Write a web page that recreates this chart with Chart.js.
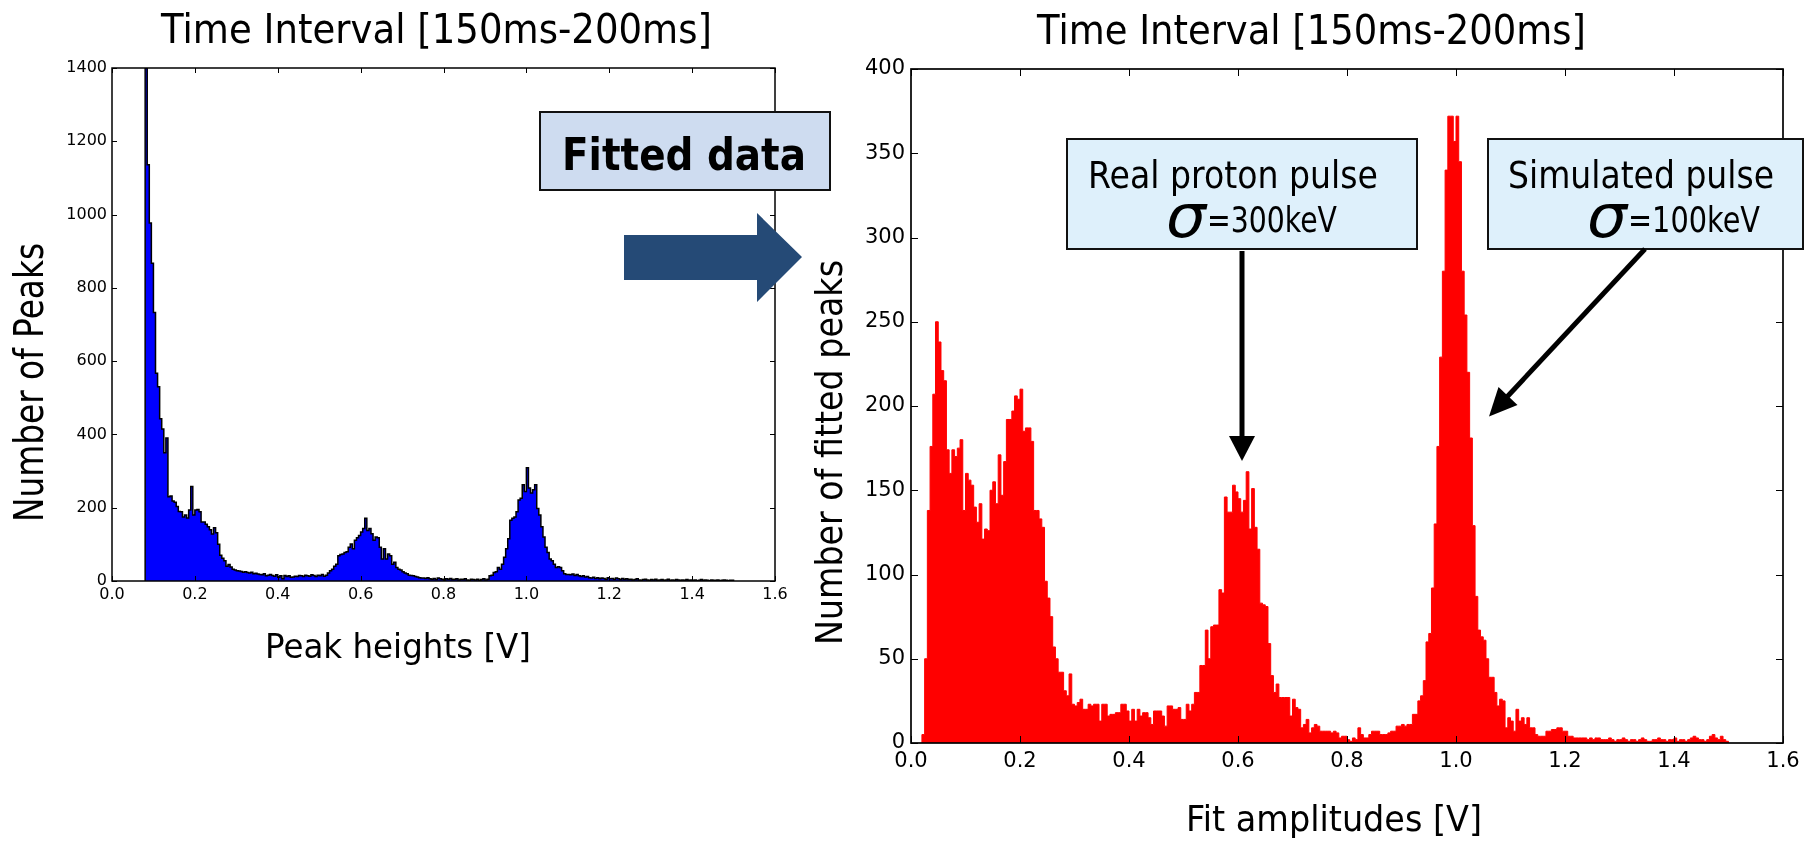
<!DOCTYPE html>
<html>
<head>
<meta charset="utf-8">
<title>Peak heights vs fit amplitudes</title>
<script src="https://cdn.jsdelivr.net/npm/chart.js@4.4.0/dist/chart.umd.min.js"></script>
<style>
  html, body { margin: 0; padding: 0; background: #fff; }
  body { position: relative; width: 1818px; height: 841px; overflow: hidden; }
  #leftChart { position: absolute; left: 0; top: 0; }
  #rightChart { position: absolute; left: 800px; top: 0; }
  #overlay { position: absolute; left: 0; top: 0; }
</style>
</head>
<body>
<canvas id="leftChart" width="800" height="841"></canvas>
<canvas id="rightChart" width="1018" height="841"></canvas>

<svg id="overlay" width="1818" height="841" xmlns="http://www.w3.org/2000/svg">
  <g font-family="'DejaVu Sans', sans-serif" fill="#000">
    <text x="161" y="43" font-size="41" textLength="551" lengthAdjust="spacingAndGlyphs">Time Interval [150ms-200ms]</text>
    <text x="1037" y="44" font-size="41" textLength="549" lengthAdjust="spacingAndGlyphs">Time Interval [150ms-200ms]</text>
    <text x="265" y="658" font-size="34" textLength="266" lengthAdjust="spacingAndGlyphs">Peak heights [V]</text>
    <text x="1186" y="831" font-size="36" textLength="296" lengthAdjust="spacingAndGlyphs">Fit amplitudes [V]</text>
    <text transform="translate(43,522) rotate(-90)" font-size="40" textLength="279" lengthAdjust="spacingAndGlyphs">Number of Peaks</text>
    <text transform="translate(842,645) rotate(-90)" font-size="38" textLength="385" lengthAdjust="spacingAndGlyphs">Number of fitted peaks</text>
  </g>

  <!-- slide call-out between the two plots -->
  <rect x="540" y="112" width="290" height="78" fill="#cedcf0" stroke="#111" stroke-width="2"/>
  <text x="562" y="170" font-family="'DejaVu Sans', sans-serif" font-weight="bold" font-size="45" textLength="244" lengthAdjust="spacingAndGlyphs">Fitted data</text>
  <polygon points="624,235 757,235 757,213 802,257 757,302 757,280 624,280" fill="#254a76"/>

  <!-- annotation boxes on the right plot -->
  <rect x="1067" y="139" width="350" height="110" fill="#def0fb" stroke="#111" stroke-width="2"/>
  <text x="1088" y="188" font-family="'DejaVu Sans', sans-serif" font-size="37" textLength="290" lengthAdjust="spacingAndGlyphs">Real proton pulse</text>
  <text x="1166" y="237" font-family="'DejaVu Sans', sans-serif" font-weight="200" font-style="italic" font-size="60" textLength="40" lengthAdjust="spacingAndGlyphs">σ</text>
  <text x="1207" y="232" font-family="'DejaVu Sans', sans-serif" font-size="36" textLength="130" lengthAdjust="spacingAndGlyphs">=300keV</text>

  <rect x="1488" y="139" width="315" height="110" fill="#def0fb" stroke="#111" stroke-width="2"/>
  <text x="1508" y="188" font-family="'DejaVu Sans', sans-serif" font-size="37" textLength="266" lengthAdjust="spacingAndGlyphs">Simulated pulse</text>
  <text x="1587" y="237" font-family="'DejaVu Sans', sans-serif" font-weight="200" font-style="italic" font-size="60" textLength="40" lengthAdjust="spacingAndGlyphs">σ</text>
  <text x="1628" y="232" font-family="'DejaVu Sans', sans-serif" font-size="36" textLength="132" lengthAdjust="spacingAndGlyphs">=100keV</text>

  <!-- arrows -->
  <rect x="1239.5" y="251" width="5" height="186" fill="#000"/>
  <polygon points="1229,436 1255,436 1242,461" fill="#000"/>
  <line x1="1645" y1="249" x2="1506" y2="398" stroke="#000" stroke-width="5"/>
  <polygon points="1489,416.5 1498.5,387 1517.5,405" fill="#000"/>
</svg>

<script>
// x axis ticks shared by both plots
const xTicks = [0, 0.2, 0.4, 0.6, 0.8, 1.0, 1.2, 1.4, 1.6];
const xTickLabels = ['0.0', '0.2', '0.4', '0.6', '0.8', '1.0', '1.2', '1.4', '1.6'];

const leftYTicks = [0, 200, 400, 600, 800, 1000, 1200, 1400];
const rightYTicks = [0, 50, 100, 150, 200, 250, 300, 350, 400];

// histogram bins: left edge of first bin and bin width [V]
const binWidth = 0.005;
const leftBinStart = 0.08;
const rightBinStart = 0.02;

// Peak heights [V], counts per bin (0.080 .. 1.500)
const leftCounts = [
  1400, 1136, 977, 867, 733, 567, 530, 443, 415, 350,
  390, 230, 232, 218, 215, 203, 190, 189, 175, 180,
  172, 194, 258, 180, 194, 195, 189, 161, 161, 155,
  148, 140, 128, 145, 132, 100, 70, 62, 55, 40,
  45, 38, 32, 30, 28,
  27, 26, 24, 25, 23, 22, 24, 20, 21, 19,
  18, 17, 20, 14, 16, 18, 15, 13, 17, 10,
  14, 6, 15, 12, 14, 10, 11, 13, 12, 15,
  14, 12, 16, 14, 13, 17, 15, 12, 16, 14,
  18, 13, 16,
  22, 28, 32, 40, 46, 69, 72, 74, 78, 80,
  92, 101, 88, 111, 118, 124, 134, 143, 171, 138,
  143, 129, 111, 120, 118, 92, 60, 88, 60, 74,
  69, 46, 51, 37, 32, 30, 25, 22, 20, 16,
  15, 14, 12, 11, 9, 8,
  8, 7, 9, 6, 5, 7, 4, 8, 6, 5,
  3, 6, 5, 7, 4, 5, 6, 3, 5, 4,
  6, 3, 2, 5, 4, 3, 5, 2, 4, 6,
  3, 5,
  14, 16, 23, 25, 37, 32, 46, 65, 88, 115,
  166, 171, 175, 189, 221, 226, 263, 244, 309, 254,
  240, 249, 263, 198, 180, 148, 120, 92, 78, 60,
  55, 46, 37, 39, 37, 28, 20, 18, 18, 17,
  19, 15, 18, 14, 12, 14, 11, 12, 9,
  8, 10, 7, 9, 6, 8, 7, 5, 9, 6, 7, 5, 8, 6, 4, 7, 5, 6, 4,
  5, 3, 4, 6, 3, 2, 4, 5, 3, 2,
  4, 3, 5, 2, 3, 4, 2, 3, 5, 2,
  3, 2, 4, 3, 2, 3, 2, 4, 2, 3,
  2, 3, 1, 2, 4, 2, 3, 2, 1, 3,
  2, 2, 3, 1, 2, 3, 2, 1, 2, 2
];

// Fit amplitudes [V], counts per bin (0.020 .. 1.500)
const rightCounts = [
  5, 50, 138, 176, 207, 250, 238, 221, 215, 174,
  160, 174, 170, 175, 180, 138, 160, 156, 153, 140,
  131, 142, 121, 127, 126, 150, 155, 142, 171, 147,
  167, 192, 192, 197, 206, 204, 210, 185, 187, 187,
  179, 138, 138, 133, 128, 96, 86, 75, 57, 50,
  42, 42, 31, 28, 41, 23, 22, 24, 26, 20,
  20, 23, 22, 23, 23, 13, 23, 23, 16, 17,
  17, 18, 18, 23, 23, 19, 13, 20, 13, 20,
  16, 18, 18, 15, 11, 19, 19, 19, 16, 10,
  22, 22, 20, 20, 21, 14, 14, 23, 19, 23,
  30, 30, 46, 46, 67, 50, 69, 70, 70, 91,
  89, 146, 137, 137, 153, 149, 145, 137, 144, 161,
  127, 151, 128, 115, 83, 82, 81, 59, 40, 30,
  35, 27, 27, 27, 27, 16, 26, 21, 20, 9,
  11, 14, 6, 9, 11, 10, 7, 7, 7, 7,
  6, 7, 6, 3, 4, 4,
  2, 1, 3, 2, 9, 5, 3, 3, 5, 7, 7, 7, 5, 5, 5, 6, 7, 7, 10, 10, 11, 10, 11, 11,
  17, 17, 25, 28, 37, 60, 65, 92, 130, 176,
  229, 280, 340, 372, 372, 357, 372, 345, 280, 254,
  220, 181, 129, 87, 67, 63, 61, 50, 39, 39,
  30, 22, 26, 25, 9, 15, 13, 7, 20, 13,
  15, 11, 15, 9, 9, 5, 4, 4, 4, 7,
  7, 8, 8, 9, 9, 7, 7, 4, 4, 3,
  3, 3, 3, 3, 2, 3, 2, 3, 3, 2,
  2, 2, 3, 2, 1, 2, 2, 3, 2, 1,
  2, 2, 1, 2, 3, 2, 1, 1, 2, 2,
  3, 2, 2, 1, 2, 2, 3, 1, 2, 2,
  1, 2, 3, 4, 3, 2, 2, 1, 2, 4,
  5, 3, 2, 4, 2, 1
];

// step outline points: one point per bin left edge, closed at both ends
function histPoints(start, width, counts) {
  const pts = [{ x: start, y: 0 }];
  counts.forEach((c, i) => pts.push({ x: +(start + i * width).toFixed(4), y: c }));
  pts.push({ x: +(start + counts.length * width).toFixed(4), y: 0 });
  return pts;
}

// matplotlib style frame with inward ticks on all four sides
const frameTicks = {
  id: 'frameTicks',
  afterDatasetsDraw(chart, args, opts) {
    const { ctx, chartArea: a, scales: { x, y } } = chart;
    ctx.save();
    ctx.strokeStyle = '#000';
    ctx.lineWidth = 1;
    ctx.beginPath();
    x.ticks.forEach((t) => {
      const px = Math.round(x.getPixelForValue(t.value)) + 0.5;
      ctx.moveTo(px, a.bottom);
      ctx.lineTo(px, a.bottom - opts.len);
      ctx.moveTo(px, a.top);
      ctx.lineTo(px, a.top + opts.len);
    });
    y.ticks.forEach((t) => {
      const py = Math.round(y.getPixelForValue(t.value)) + 0.5;
      ctx.moveTo(a.left, py);
      ctx.lineTo(a.left + opts.len, py);
      ctx.moveTo(a.right, py);
      ctx.lineTo(a.right - opts.len, py);
    });
    ctx.stroke();
    ctx.lineWidth = opts.frame;
    ctx.strokeRect(a.left, a.top, a.right - a.left, a.bottom - a.top);
    ctx.restore();
  },
};

function xScale(fontSize, pad) {
  return {
    type: 'linear',
    min: 0,
    max: 1.6,
    afterBuildTicks: (s) => { s.ticks = xTicks.map((v) => ({ value: v })); },
    afterFit: (s) => { s.height = 40; },
    ticks: {
      callback: (v) => xTickLabels[xTicks.indexOf(v)],
      font: { family: 'DejaVu Sans', size: fontSize },
      color: '#000',
      padding: pad,
      autoSkip: false,
      maxRotation: 0,
    },
    grid: { display: false, drawTicks: false },
    border: { display: false },
  };
}

function yScale(max, tickValues, fontSize, pad) {
  return {
    type: 'linear',
    min: 0,
    max: max,
    afterBuildTicks: (s) => { s.ticks = tickValues.map((v) => ({ value: v })); },
    afterFit: (s) => { s.width = 60; },
    ticks: {
      callback: (v) => String(v),
      font: { family: 'DejaVu Sans', size: fontSize },
      color: '#000',
      padding: pad,
      autoSkip: false,
    },
    grid: { display: false, drawTicks: false },
    border: { display: false },
  };
}

function baseOptions(padding, yMax, yTicks, fontSize, xPad, yPad, tickLen, frame) {
  return {
    responsive: false,
    animation: false,
    devicePixelRatio: 1,
    layout: { padding: padding },
    plugins: {
      legend: { display: false },
      tooltip: { enabled: false },
      frameTicks: { len: tickLen, frame: frame },
    },
    scales: {
      x: xScale(fontSize, xPad),
      y: yScale(yMax, yTicks, fontSize, yPad),
    },
  };
}

new Chart(document.getElementById('leftChart'), {
  type: 'line',
  data: {
    datasets: [
      {
        data: histPoints(leftBinStart, binWidth, leftCounts),
        stepped: true,
        fill: 'origin',
        backgroundColor: '#0000ff',
        borderColor: '#000000',
        borderWidth: 1.5,
        pointRadius: 0,
      },
    ],
  },
  options: baseOptions({ left: 52, right: 25, top: 68, bottom: 220 }, 1400, leftYTicks, 16, 4, 5, 5, 1.5),
  plugins: [frameTicks],
});

new Chart(document.getElementById('rightChart'), {
  type: 'line',
  data: {
    datasets: [
      {
        data: histPoints(rightBinStart, binWidth, rightCounts),
        stepped: true,
        fill: 'origin',
        backgroundColor: '#ff0000',
        borderColor: '#ff0000',
        borderWidth: 1,
        pointRadius: 0,
      },
    ],
  },
  options: baseOptions({ left: 51, right: 35, top: 69, bottom: 58 }, 400, rightYTicks, 21, 6, 6, 7, 1.7),
  plugins: [frameTicks],
});
</script>
</body>
</html>
